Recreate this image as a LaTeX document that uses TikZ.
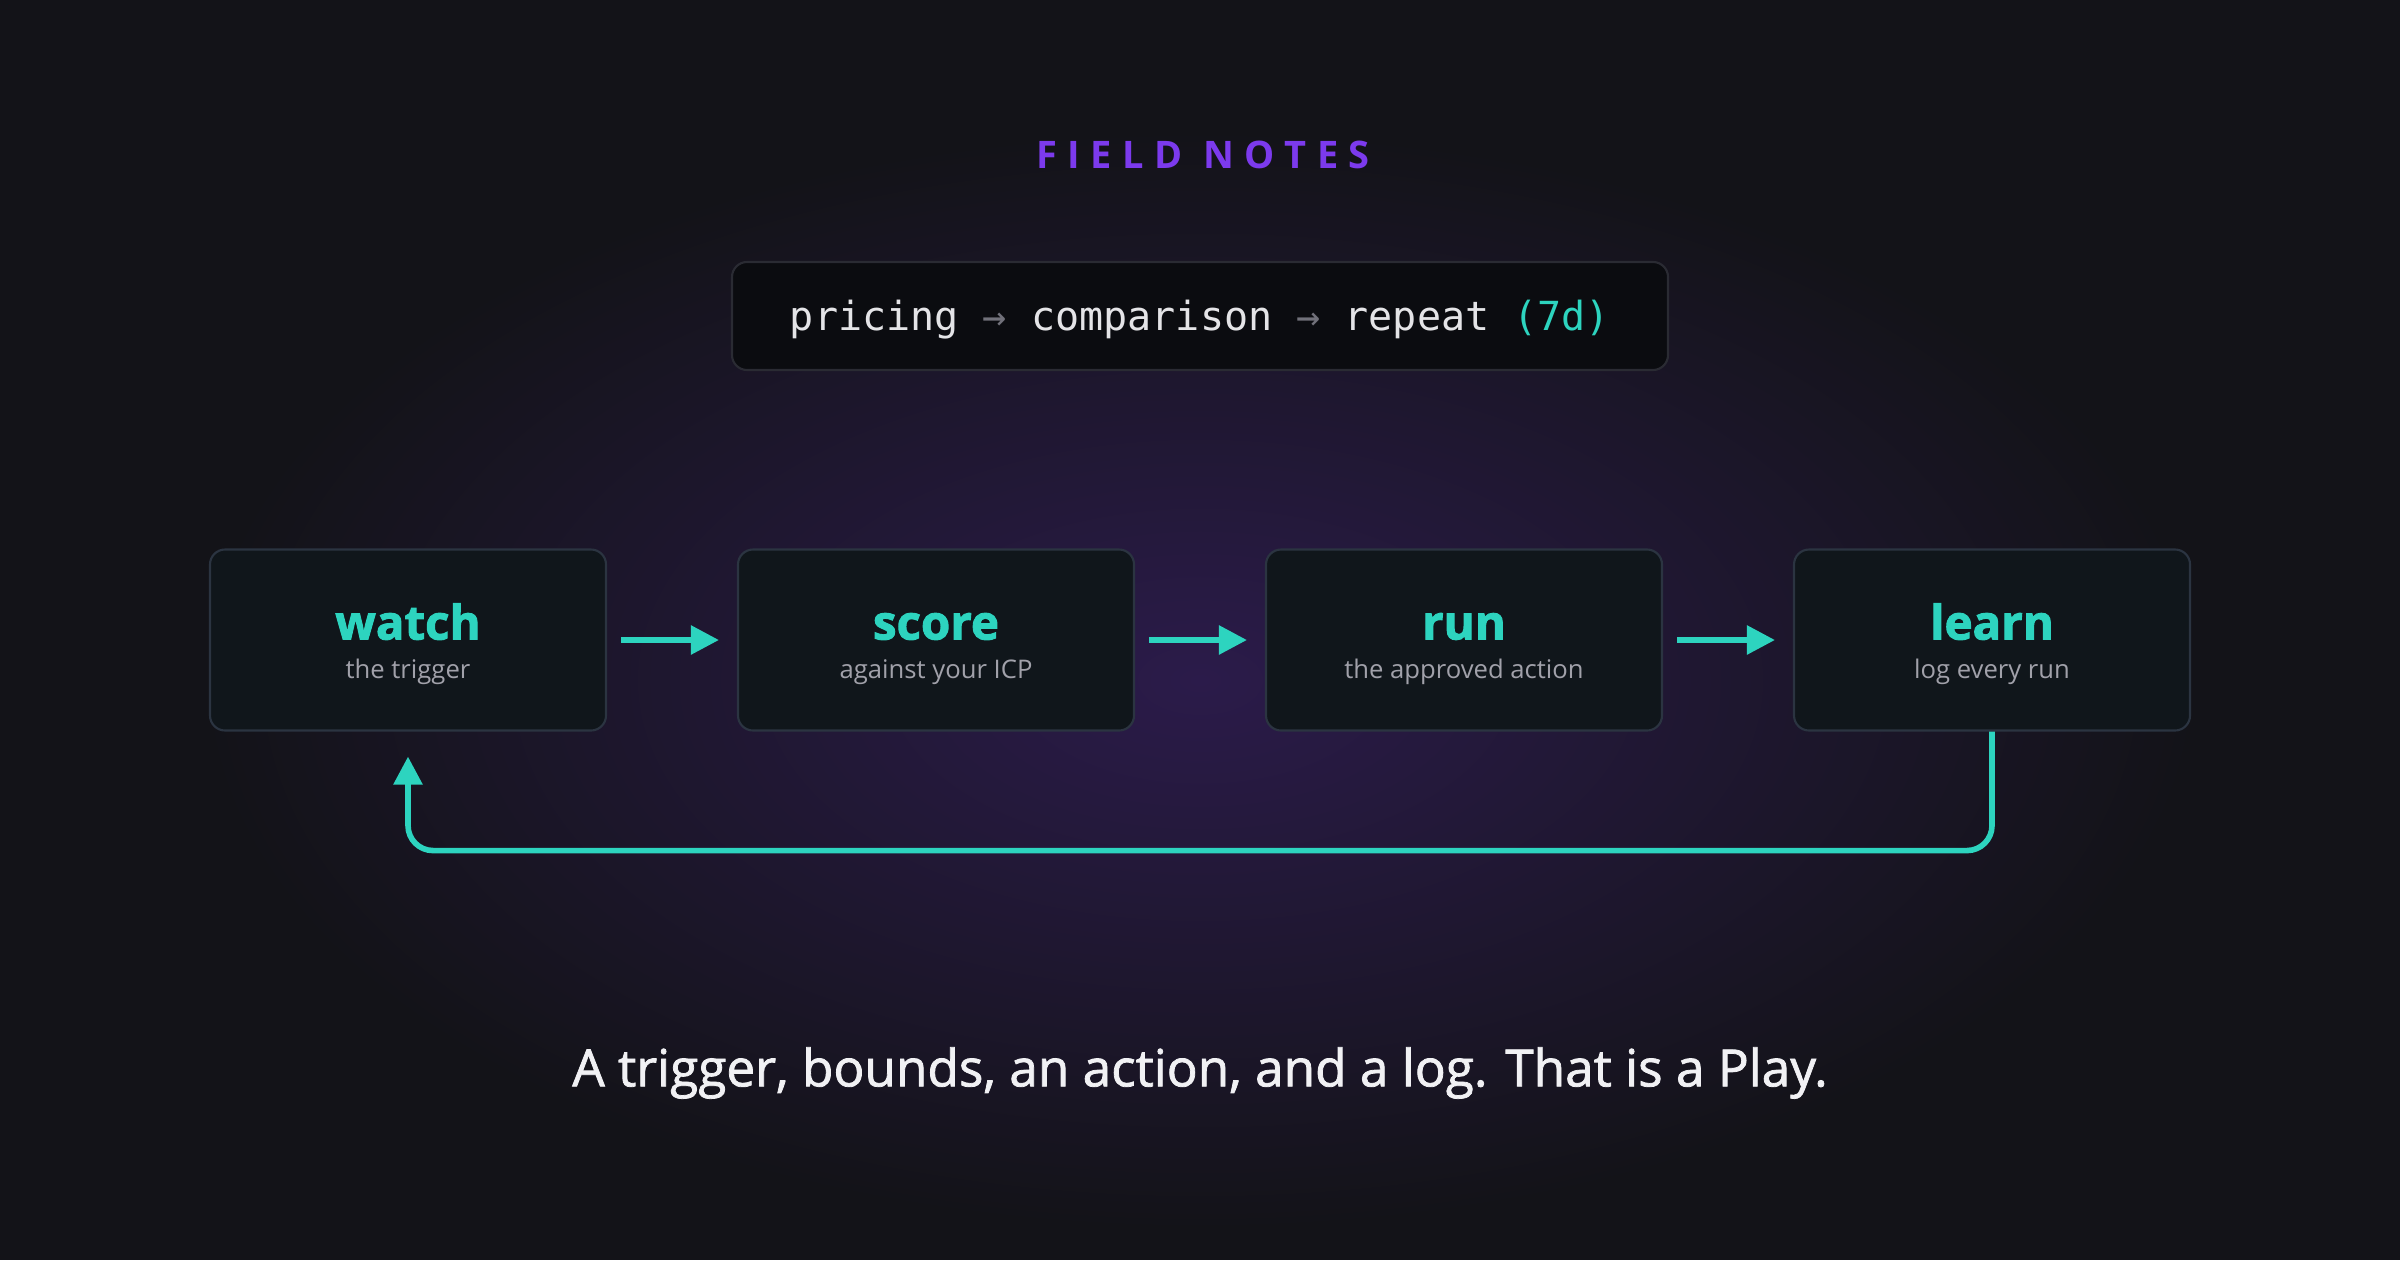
\documentclass[tikz,border=0pt]{standalone}
\usepackage{fontspec}
\setmainfont{Open Sans}
\newfontfamily\codefont{DejaVu Sans Mono}
\newfontfamily\kickerfont{Open Sans}[LetterSpace=28]
\newfontfamily\headfont{Open Sans}[BoldFeatures={FakeBold=2}]
\newfontfamily\tagfont{Open Sans}[FakeBold=1.5]
\usetikzlibrary{arrows.meta}

\definecolor{bgdark}{HTML}{131318}
\definecolor{glow}{HTML}{2B1B4A}
\definecolor{boxfill}{HTML}{10161B}
\definecolor{boxline}{HTML}{2B3441}
\definecolor{accent}{HTML}{2DD4BF}
\definecolor{subgray}{HTML}{A1A1AA}
\definecolor{codefill}{HTML}{0B0C10}
\definecolor{codeline}{HTML}{2A2B33}
\definecolor{codetext}{HTML}{E4E4E7}
\definecolor{codearrow}{HTML}{71717A}
\definecolor{kicker}{HTML}{7C3AED}
\definecolor{captext}{HTML}{F1F1F4}

\tikzstyle{stepbox}=[minimum width=3.96cm, minimum height=1.81cm, rounded corners=0.15cm,
  draw=boxline, fill=boxfill, line width=0.6pt, align=center,
  font=\fontsize{7.3}{11}\selectfont]
\tikzstyle{codebox}=[minimum width=9.36cm, minimum height=1.08cm, rounded corners=0.15cm,
  draw=codeline, fill=codefill, line width=0.6pt, text=codetext,
  text height=9.5pt, text depth=1pt,
  font=\codefont\fontsize{11.4}{13}\selectfont]
\tikzstyle{flow}=[draw=accent, line width=1.6pt, -{Triangle[length=0.28cm, width=0.28cm]}]

\newcommand{\steptitle}[1]{{\headfont\bfseries\fontsize{13.5}{11}\selectfont\color{accent}\rule{0pt}{12.5pt}#1}}
\newcommand{\stepnote}[1]{{\color{subgray}\rule[-1.8pt]{0pt}{1.8pt}#1}}

\begin{document}
\begin{tikzpicture}
  \useasboundingbox (0, 0) rectangle (24, 12.6);
  % backdrop
  \fill[bgdark] (0, 0) rectangle (24, 12.6);
  \shade[inner color=glow, outer color=bgdark] (12, 5.8) ellipse (10 and 5.5);

  \node[text=kicker, font=\kickerfont\bfseries\fontsize{10.8}{13}\selectfont] (kicker) at (12.03, 11.05) {FIELD NOTES};
  \node[codebox] (code) at (12, 9.44) {pricing {\color{codearrow}→} comparison {\color{codearrow}→} repeat {\color{accent}(7d)}};

  \node[stepbox] (watch) at ( 4.08, 6.2) {\steptitle{watch}\\\stepnote{the trigger}};
  \node[stepbox] (score) at ( 9.36, 6.2) {\steptitle{score}\\\stepnote{against your ICP}};
  \node[stepbox] (run)   at (14.64, 6.2) {\steptitle{run}\\\stepnote{the approved action}};
  \node[stepbox] (learn) at (19.92, 6.2) {\steptitle{learn}\\\stepnote{log every run}};

  \draw[flow] ([xshift=0.14cm]watch.east) -- ([xshift=-0.18cm]score.west);
  \draw[flow] ([xshift=0.14cm]score.east) -- ([xshift=-0.18cm]run.west);
  \draw[flow] ([xshift=0.14cm]run.east)   -- ([xshift=-0.18cm]learn.west);
  \draw[flow, rounded corners=0.25cm] (learn.south) -- ++(0, -1.19) -| ([yshift=-0.25cm]watch.south);

  \node[text=captext, font=\tagfont\fontsize{14.6}{17}\selectfont] (tagline) at (12, 1.87) {A trigger, bounds, an action, and a log. That is a Play.};
\end{tikzpicture}
\end{document}
